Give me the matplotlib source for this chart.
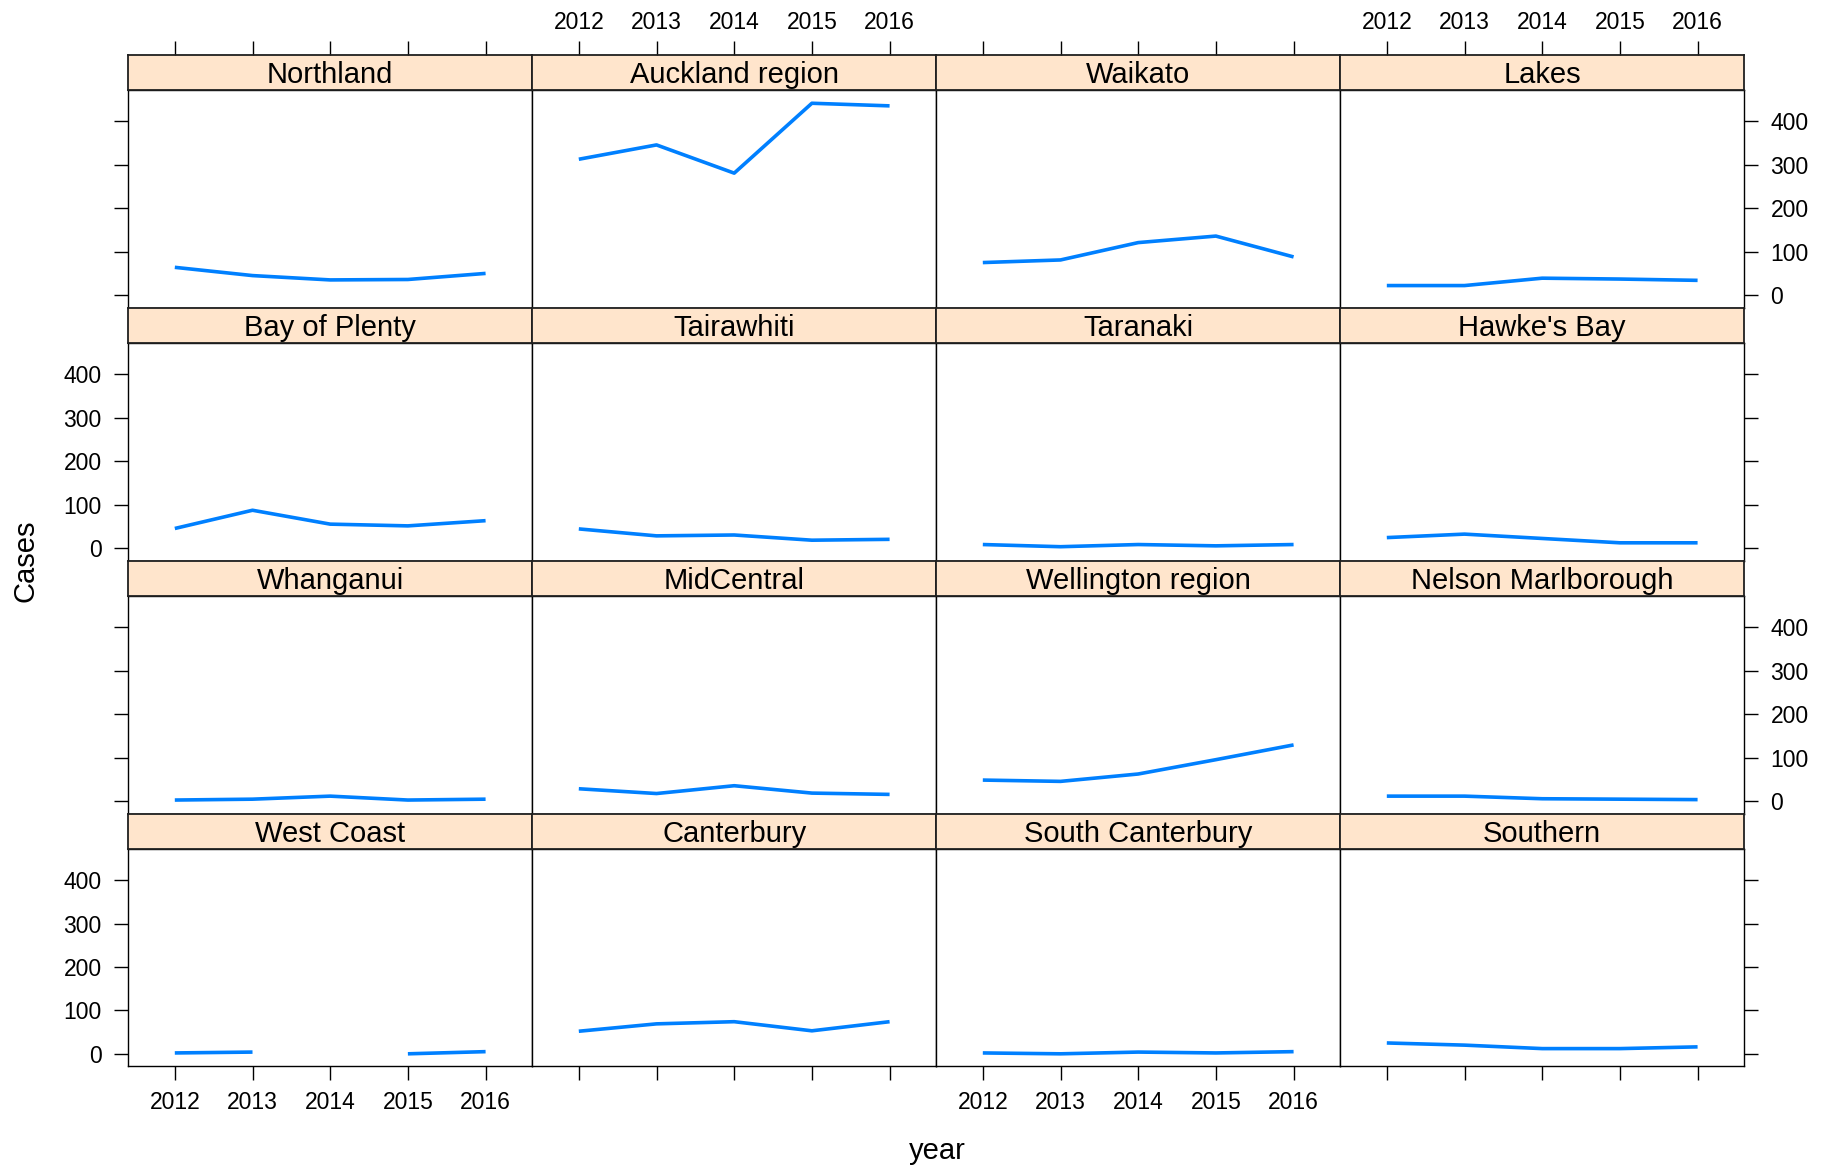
import numpy as np
import matplotlib
matplotlib.use("Agg")
import matplotlib.pyplot as plt

plt.rcParams['font.family'] = ['Liberation Sans', 'DejaVu Sans']

years = [2012, 2013, 2014, 2015, 2016]
regions = ["Northland", "Auckland region", "Waikato", "Lakes",
           "Bay of Plenty", "Tairawhiti", "Taranaki", "Hawke's Bay",
           "Whanganui", "MidCentral", "Wellington region", "Nelson Marlborough",
           "West Coast", "Canterbury", "South Canterbury", "Southern"]

northland = [64, 45, 35, 36, 50]
auckland = [313, 346, 281, 442, 436]
waikato = [75, 81, 121, 136, 88]
lakes = [22, 22, 39, 37, 34]
bay_of_plenty = [45, 87, 55, 51, 63]
tairawhiti = [44, 28, 30, 18, 20]
taranaki = [8, 3, 8, 5, 8]
hawkes_bay = [24, 32, 22, 12, 12]
whanganui = [2, 4, 11, 2, 4]
midcentral = [28, 17, 35, 18, 15]
wellington = [48, 45, 62, 95, 129]
nelson_marlborough = [11, 11, 5, 4, 3]
west_coast = [2, 4, np.nan, 0, 5]
canterbury = [52, 69, 74, 53, 74]
south_canterbury = [2, 0, 4, 2, 5]
southern = [25, 20, 12, 12, 16]

series = [northland, auckland, waikato, lakes,
          bay_of_plenty, tairawhiti, taranaki, hawkes_bay,
          whanganui, midcentral, wellington, nelson_marlborough,
          west_coast, canterbury, south_canterbury, southern]

yticks = [0, 100, 200, 300, 400]

W, H = 1827, 1167
fig = plt.figure(figsize=(W / 100, H / 100), dpi=100)

left = 128.2
top = 54.8
colw = 404.0
rowh = 252.9
striph = 35.0
panelh = rowh - striph

LINE = "#0080ff"
STRIP = "#ffe5cc"
TICKFS = 16.5
STRIPFS = 21
xtick_kw = dict(direction='out', length=10, width=1.0, labelsize=TICKFS, pad=8, colors='black')
ytick_kw = dict(direction='out', length=10, width=1.0, labelsize=TICKFS, pad=9, colors='black')

for i, (name, vals) in enumerate(zip(regions, series)):
    r, c = divmod(i, 4)
    x0 = left + c * colw
    ytop = top + r * rowh
    ax = fig.add_axes([x0 / W, 1 - (ytop + rowh) / H, colw / W, panelh / H])
    sax = fig.add_axes([x0 / W, 1 - (ytop + striph) / H, colw / W, striph / H])

    ax.plot(years, vals, color=LINE, lw=2.6, solid_capstyle='butt')
    ax.set_xlim(2011.4, 2016.6)
    ax.set_ylim(-29, 473)
    for sp in ax.spines.values():
        sp.set_linewidth(1.0)

    # strip
    sax.set_facecolor(STRIP)
    sax.set_xlim(2011.4, 2016.6)
    sax.set_ylim(0, 1)
    sax.text(0.5, 0.42, name, transform=sax.transAxes, ha='center', va='center',
             fontsize=STRIPFS)
    for sp in sax.spines.values():
        sp.set_linewidth(1.3)
        sp.set_color('#202020')
    sax.set_yticks([])

    # x ticks
    ax.set_xticks(years)
    sax.set_xticks(years)
    ax.tick_params(axis='x', **xtick_kw)
    sax.tick_params(axis='x', **xtick_kw)
    sax.tick_params(axis='x', pad=5)
    ax.tick_params(axis='x', top=False, labeltop=False,
                   bottom=(r == 3), labelbottom=(r == 3 and c in (0, 2)))
    sax.tick_params(axis='x', bottom=False, labelbottom=False,
                    top=(r == 0), labeltop=(r == 0 and c in (1, 3)))
    ax.set_xticklabels([str(y) for y in years])
    sax.set_xticklabels([str(y) for y in years])

    # y ticks
    ax.set_yticks(yticks)
    ax.set_yticklabels([str(v) for v in yticks])
    ax.tick_params(axis='y', **ytick_kw)
    ax.tick_params(axis='y', left=(c == 0), labelleft=(c == 0 and r in (1, 3)),
                   right=(c == 3), labelright=(c == 3 and r in (0, 2)))

fig.text(804 * 1.1652 / W, 1 - 1151 / H, "year", ha='center', va='center', fontsize=21)
fig.text(25.6 / W, 1 - (top + 2 * rowh) / H, "Cases", ha='center', va='center',
         fontsize=21, rotation=90)

fig.savefig("out.png", dpi=100)
